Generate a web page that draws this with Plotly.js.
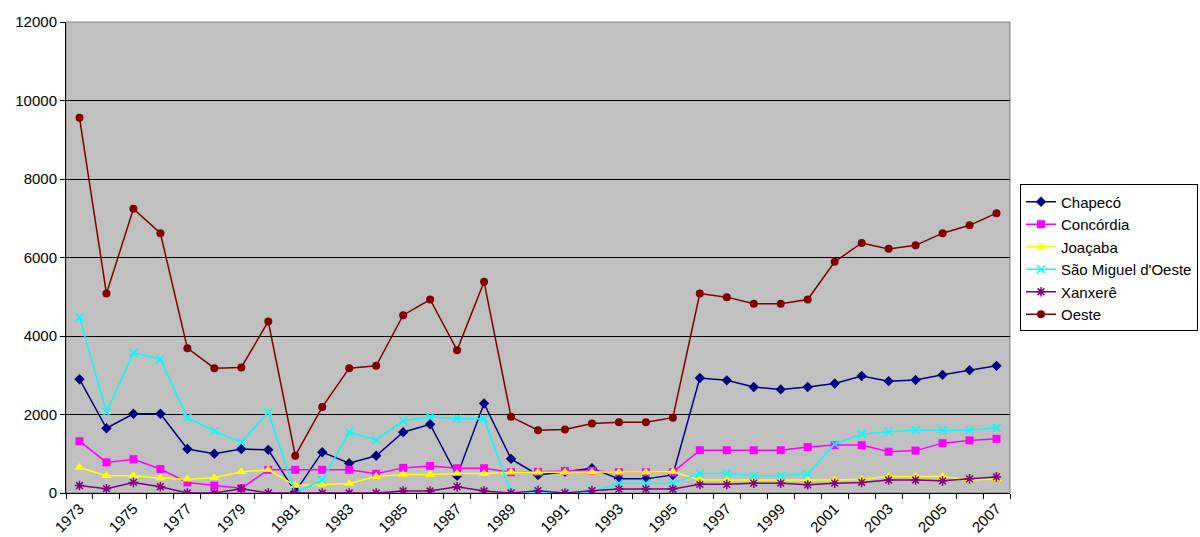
<!DOCTYPE html>
<html>
<head>
<meta charset="utf-8">
<script src="https://cdn.plot.ly/plotly-3.0.1.min.js"></script>
<style>html,body{margin:0;padding:0;background:#fff;}#chart{width:1200px;height:537px;}</style>
</head>
<body>
<div id="chart"></div>
<script>
const years = [1973,1974,1975,1976,1977,1978,1979,1980,1981,1982,1983,1984,1985,1986,1987,1988,1989,1990,1991,1992,1993,1994,1995,1996,1997,1998,1999,2000,2001,2002,2003,2004,2005,2006,2007];
const tickYears = [1973,1975,1977,1979,1981,1983,1985,1987,1989,1991,1993,1995,1997,1999,2001,2003,2005,2007];

const chapeco = [2900,1650,2020,2020,1120,1000,1120,1100,30,1040,760,950,1550,1750,440,2280,870,460,540,630,360,360,460,2930,2870,2700,2640,2700,2790,2980,2850,2880,3010,3130,3240];
const concordia = [1320,780,860,610,270,190,120,590,590,590,590,490,640,690,630,630,530,540,560,560,530,530,530,1090,1090,1090,1090,1170,1220,1220,1050,1080,1270,1340,1380];
const joacaba = [650,440,440,380,350,390,540,590,190,220,240,420,470,470,500,500,530,530,530,530,530,530,540,330,330,330,340,330,330,350,420,420,420,330,360];
const saoMiguel = [4480,2060,3570,3410,1920,1580,1290,2060,0,330,1550,1350,1840,1940,1890,1890,0,20,10,30,250,250,250,500,500,440,440,480,1250,1500,1560,1600,1600,1600,1660];
const xanxere = [190,110,270,160,0,0,110,0,0,0,0,0,50,50,160,50,0,60,0,60,100,100,100,220,220,250,250,210,250,270,330,330,310,360,410];
const oeste = [9560,5080,7240,6620,3690,3180,3200,4370,950,2190,3180,3240,4530,4930,3640,5380,1940,1600,1620,1770,1800,1800,1920,5080,4990,4820,4820,4930,5890,6370,6220,6310,6620,6820,7130];

const names = ['Chapecó','Concórdia','Joaçaba',"São Miguel d'Oeste",'Xanxerê','Oeste'];
const series = [chapeco, concordia, joacaba, saoMiguel, xanxere, oeste];
const colors = ['#000080','#FF00FF','#FFFF00','#00FFFF','#800080','#800000'];
const symbols = ['diamond','square','triangle-up','x-thin-open','asterisk-open','circle'];
const sizes = [8,8,9,8,8,8];

const traces = series.map((s,i)=>({
  x: years, y: s, name: names[i], type:'scatter', mode:'lines+markers',
  line:{color:colors[i], width:1.5},
  marker:{symbol:symbols[i], size:sizes[i], color:colors[i], line:{color:colors[i], width:(i===3||i===4)?1.5:0}}
}));

const layout = {
  width:1200, height:537,
  margin:{l:66, r:190, t:22, b:44, autoexpand:false},
  paper_bgcolor:'#ffffff', plot_bgcolor:'#C0C0C0',
  font:{family:'Liberation Sans, Arial, sans-serif', size:15, color:'#000'},
  showlegend:true,
  legend:{x:1.0106, y:0.655, xanchor:'left', yanchor:'top', bgcolor:'#fff', bordercolor:'#000', borderwidth:1,
          font:{size:15, family:'Liberation Sans, Arial, sans-serif'}, tracegroupgap:0, itemwidth:30},
  xaxis:{
    type:'linear', range:[1972.5, 2007.5],
    tickmode:'array', tickvals:tickYears, ticktext:tickYears.map(String),
    tickangle:-45, ticks:'', showgrid:false, zeroline:false,
    showline:true, linecolor:'#000', linewidth:1, mirror:false,
    minor:{tickmode:'linear', tick0:1972.5, dtick:1, ticks:'outside', ticklen:5, tickcolor:'#000', showgrid:false},
    tickfont:{size:15}
  },
  yaxis:{
    range:[0,12000], dtick:2000, tick0:0, tickformat:'d',
    showgrid:true, gridcolor:'#000', gridwidth:1, zeroline:false,
    showline:true, linecolor:'#000', linewidth:1,
    ticks:'outside', ticklen:5, tickcolor:'#000',
    tickfont:{size:15}
  },
  shapes:[{type:'rect', xref:'paper', yref:'paper', x0:0, x1:1, y0:0, y1:1, line:{color:'#808080', width:1}, layer:'below'}]
};

Plotly.newPlot('chart', traces, layout, {displayModeBar:false, staticPlot:true});
</script>
</body>
</html>
